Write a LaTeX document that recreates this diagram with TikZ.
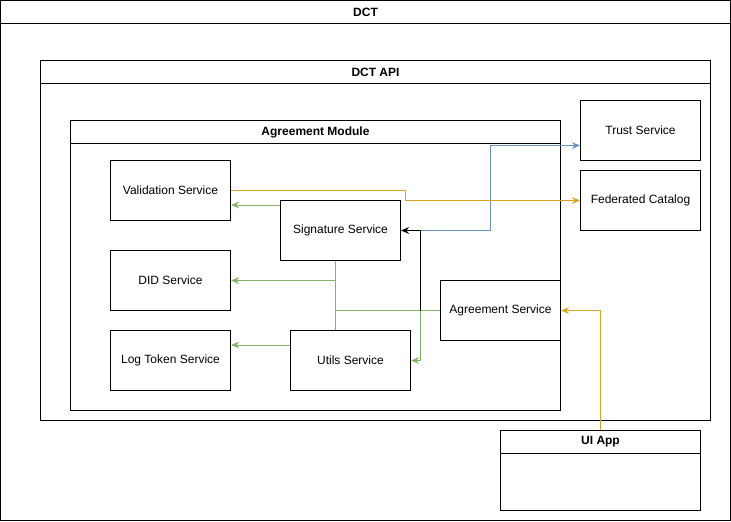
\documentclass[tikz,border=0pt]{standalone}
\usepackage{fontspec}
\setmainfont{Liberation Sans}
\usetikzlibrary{arrows.meta}

\definecolor{usegreen}{HTML}{82B366}
\definecolor{useblue}{HTML}{6C8EBF}
\definecolor{usegold}{HTML}{D6A520}

\tikzset{
    service/.style={draw, line width=0.75pt, minimum width=90pt, minimum height=45pt, inner sep=0pt, font=\fontsize{9}{11}\selectfont},
    frame/.style={draw, line width=0.75pt, inner sep=0pt},
    header/.style={draw, line width=0.75pt, inner sep=0pt, minimum height=17.25pt, font=\fontsize{9}{11}\selectfont\bfseries},
    link/.style={line width=0.75pt, -{Stealth[length=6pt, width=5pt]}},
    plainlink/.style={line width=0.75pt},
}

\begin{document}
\begin{tikzpicture}[x=0.75pt, y=-0.75pt]
    \useasboundingbox (-0.5,-0.5) rectangle (730.5,520.5);

    % Containers
    \node[frame, minimum width=547.5pt, minimum height=390pt] (dct) at (365,260) {};
    \node[header, minimum width=547.5pt] (dcttitle) at (365,11.5) {DCT};

    \node[frame, minimum width=502.5pt, minimum height=270pt] (api) at (375,240) {};
    \node[header, minimum width=502.5pt] (apititle) at (375,71.5) {DCT API};

    \node[frame, minimum width=367.5pt, minimum height=217.5pt] (module) at (315,265) {};
    \node[header, minimum width=367.5pt] (moduletitle) at (315,131.5) {Agreement Module};

    \node[frame, minimum width=150pt, minimum height=60pt] (ui) at (600,470) {};
    \node[header, minimum width=150pt] (uititle) at (600,441.5) {UI App};

    % Services
    \node[service] (trust) at (640,130) {Trust Service};
    \node[service] (fedcat) at (640,200) {Federated Catalog};
    \node[service] (valid) at (170,190) {Validation Service};
    \node[service] (sign) at (340,230) {Signature Service};
    \node[service] (did) at (170,280) {DID Service};
    \node[service] (agree) at (500,310) {Agreement Service};
    \node[service] (logtok) at (170,360) {Log Token Service};
    \node[service] (utils) at (350,360) {Utils Service};

    % Junctions
    \coordinate (greenjn) at (335,310);
    \coordinate (agreejn) at (420,310);
    \coordinate (goldjn) at (405,200);
    \coordinate (bluejn) at (490,145);

    % Green links
    \draw[link, usegreen] ([yshift=-3.75pt]sign.north west) coordinate (signout) -- (signout -| valid.east);
    \draw[plainlink, usegreen] (greenjn |- sign.south) -- (greenjn |- utils.north);
    \draw[link, usegreen] (greenjn |- did.east) -- (did.east);
    \draw[plainlink, usegreen] (agree.west) -- (greenjn);
    \draw[link, usegreen] ([yshift=-11.25pt]utils.north west) coordinate (utilsout) -- (utilsout -| logtok.east);
    \draw[link, usegreen] (agreejn) |- (utils.east);

    % Black link
    \draw[link, black] (agreejn) |- (sign.east);

    % Blue link
    \draw[link, useblue] (agreejn |- sign.east) -| (bluejn) -- (bluejn -| trust.west);

    % Gold links
    \draw[link, usegold] (valid.east) -| (goldjn) -- (fedcat.west);
    \draw[link, usegold] (ui.north) |- (agree.east);
\end{tikzpicture}
\end{document}
